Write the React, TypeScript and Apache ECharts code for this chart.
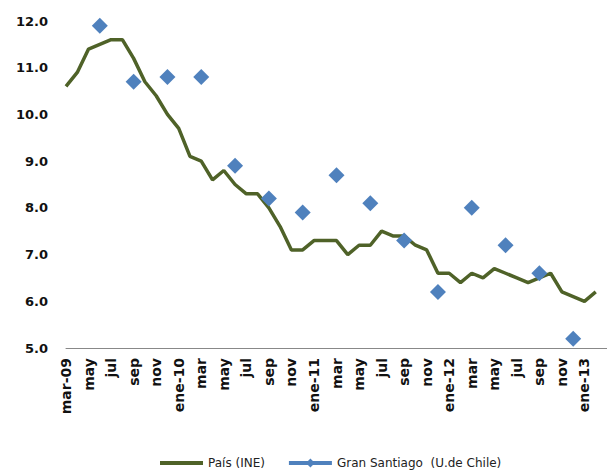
import React, { useEffect, useRef } from "react";
import * as echarts from "echarts";

const months = [
  "mar-09","abr","may","jun","jul","ago","sep","oct","nov","dic",
  "ene-10","feb","mar","abr","may","jun","jul","ago","sep","oct","nov","dic",
  "ene-11","feb","mar","abr","may","jun","jul","ago","sep","oct","nov","dic",
  "ene-12","feb","mar","abr","may","jun","jul","ago","sep","oct","nov","dic",
  "ene-13","feb","mar-13",
];

const paisINE = [
  10.6, 10.9, 11.4, 11.5, 11.6, 11.6, 11.2, 10.7, 10.4, 10.0,
  9.7, 9.1, 9.0, 8.6, 8.8, 8.5, 8.3, 8.3, 8.0, 7.6, 7.1, 7.1,
  7.3, 7.3, 7.3, 7.0, 7.2, 7.2, 7.5, 7.4, 7.4, 7.2, 7.1, 6.6,
  6.6, 6.4, 6.6, 6.5, 6.7, 6.6, 6.5, 6.4, 6.5, 6.6, 6.2, 6.1,
  6.0, 6.2, null,
];

const granSantiago = [
  null, null, null, 11.9, null, null, 10.7, null, null, 10.8,
  null, null, 10.8, null, null, 8.9, null, null, 8.2, null, null, 7.9,
  null, null, 8.7, null, null, 8.1, null, null, 7.3, null, null, 6.2,
  null, null, 8.0, null, null, 7.2, null, null, 6.6, null, null, 5.2,
  null, null, null,
];

const shownLabels = [
  "mar-09","may","jul","sep","nov","ene-10","mar","may","jul","sep","nov",
  "ene-11","mar","may","jul","sep","nov","ene-12","mar","may","jul","sep","nov","ene-13",
];

export default function App() {
  const ref = useRef<HTMLDivElement>(null);
  useEffect(() => {
    if (!ref.current) return;
    const chart = echarts.init(ref.current, null, { renderer: "svg" });
    const font = "'DejaVu Sans', sans-serif";
    chart.setOption({
      animation: false,
      grid: { left: 66, top: 21, height: 327, width: 544 },
      legend: {
        top: 452,
        left: 155,
        itemWidth: 43,
        itemHeight: 11,
        itemGap: 22,
        textStyle: { fontFamily: font, fontSize: 12, color: "#222" },
        data: [
          {
            name: "País (INE)",
            icon: "path://M0 0H43V4H0Z",
            itemStyle: { color: "#4F6228" },
          },
          { name: "Gran Santiago  (U.de Chile)", lineStyle: { width: 4, color: "#4F81BD" } },
        ],
      },
      xAxis: {
        type: "category",
        data: months,
        boundaryGap: false,
        axisLine: { lineStyle: { color: "#888", width: 1 } },
        axisTick: { show: false },
        axisLabel: {
          rotate: 90,
          interval: (i: number) => i % 2 === 0 && i < 48,
          formatter: (_v: string, i: number) => shownLabels[i / 2] ?? "",
          fontFamily: font,
          fontSize: 14,
          fontWeight: "bold",
          color: "#111",
          margin: 10,
        },
      },
      yAxis: {
        type: "value",
        min: 5,
        max: 12,
        interval: 1,
        axisLine: { show: false },
        axisTick: { show: false },
        splitLine: { show: false },
        axisLabel: {
          formatter: (v: number) => v.toFixed(1),
          fontFamily: font,
          fontSize: 13,
          fontWeight: "bold",
          color: "#111",
          margin: 18,
        },
      },
      series: [
        {
          name: "País (INE)",
          type: "line",
          data: paisINE,
          showSymbol: false,
          symbol: "none",
          lineStyle: { color: "#4F6228", width: 3.5 },
          itemStyle: { color: "#4F6228" },
          z: 2,
        },
        {
          name: "Gran Santiago  (U.de Chile)",
          type: "line",
          data: granSantiago,
          connectNulls: false,
          showAllSymbol: true,
          symbol: "diamond",
          symbolSize: 16,
          lineStyle: { width: 0, color: "#4F81BD" },
          itemStyle: { color: "#4F81BD" },
          z: 3,
        },
      ],
    });
    return () => chart.dispose();
  }, []);
  return <div ref={ref} style={{ width: 607, height: 472, position: "absolute", left: 0, top: 0 }} />;
}
